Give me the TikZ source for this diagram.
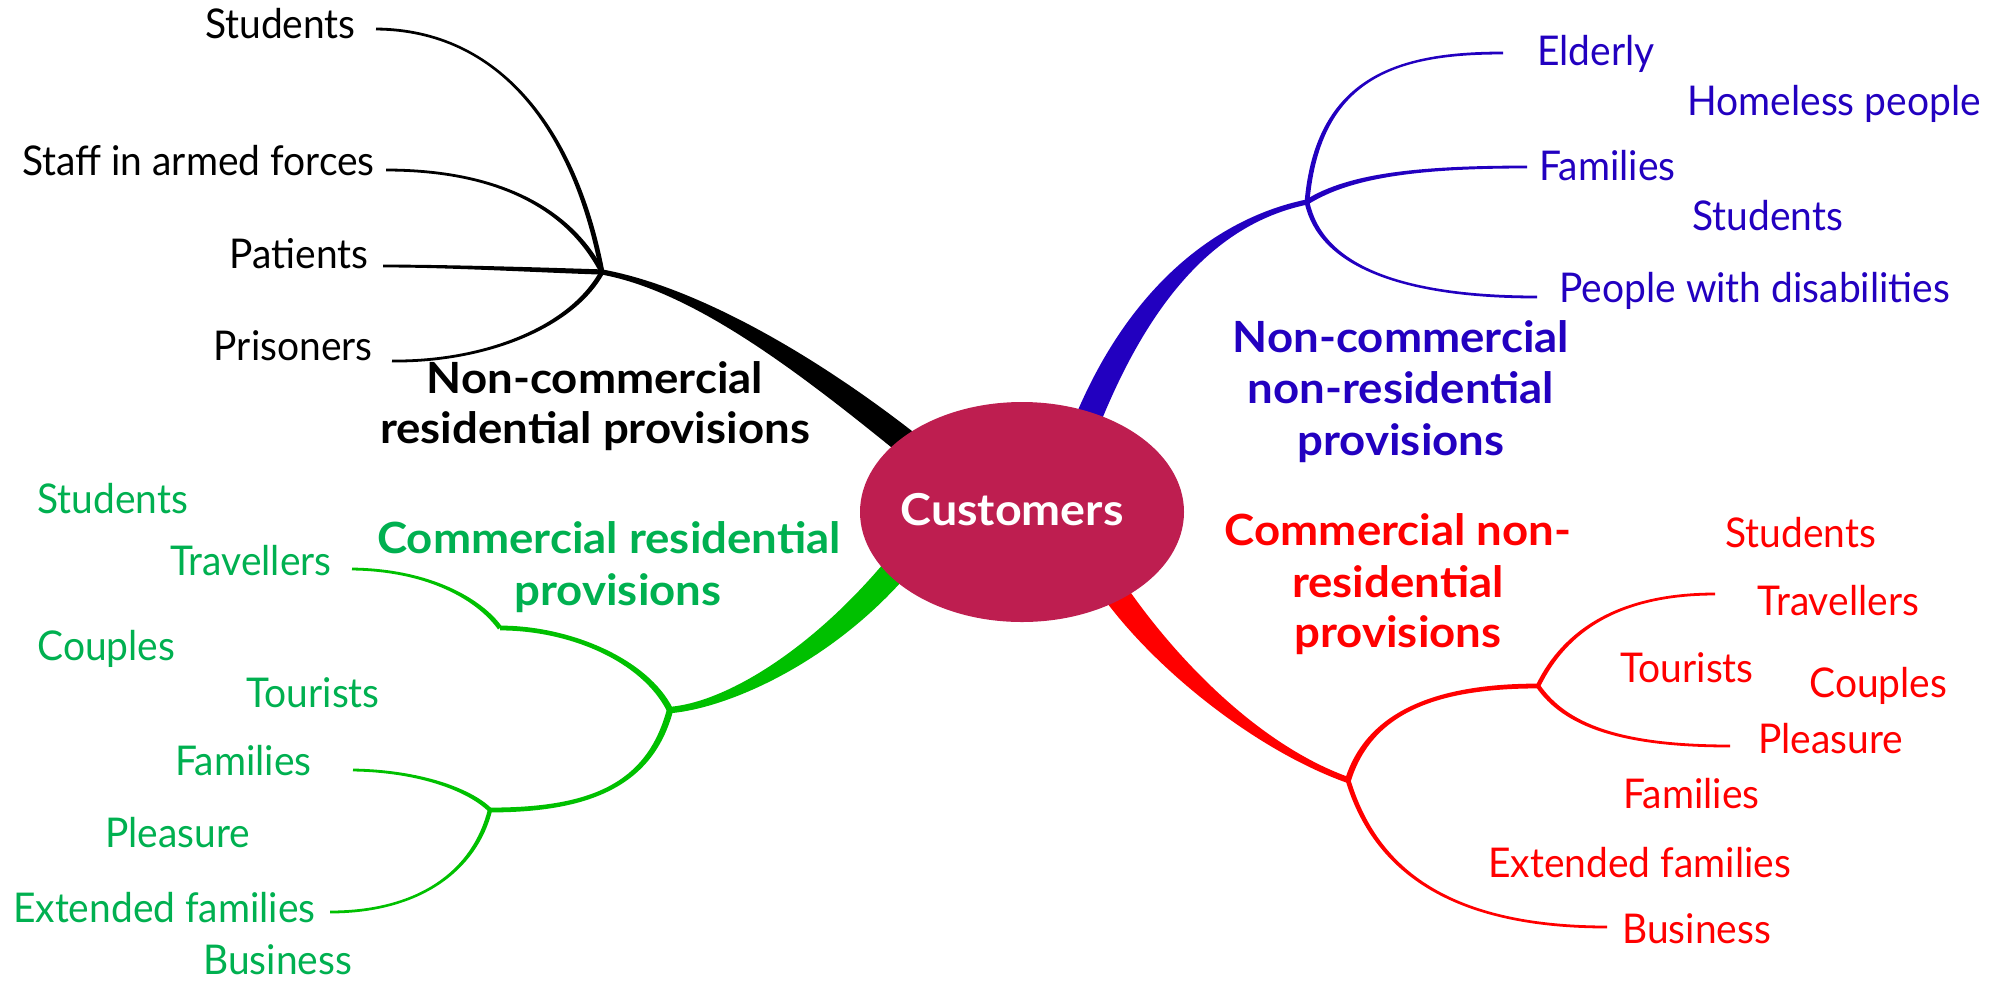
\documentclass[tikz,border=0pt]{standalone}
\usepackage{fontspec}
\setmainfont{Lato}[FakeStretch=0.95]
\newfontfamily\lblfont{Lato}[FakeStretch=1.06]
\usetikzlibrary{calc,shapes.geometric}

\definecolor{hubred}{RGB}{190,30,80}
\definecolor{kblue}{RGB}{34,0,192}
\definecolor{kgreenline}{RGB}{0,192,0}
\definecolor{kgreentext}{RGB}{0,176,80}
\definecolor{kred}{RGB}{255,0,0}

% tapered Bezier stroke: start, control 1, control 2, end, half width at start, half width at end, colour
\newcommand\taper[7]{%
  \path ($(#1)!#5!90:(#2)$) coordinate (tpA1)
        ($(#1)!#5!-90:(#2)$) coordinate (tpA2)
        ($(#4)!#6!-90:(#3)$) coordinate (tpD1)
        ($(#4)!#6!90:(#3)$) coordinate (tpD2);
  \fill[#7] (tpA1) .. controls ($(#2)+(tpA1)-(#1)$) and ($(#3)+(tpD1)-(#4)$) .. (tpD1)
     -- (tpD2) .. controls ($(#3)+(tpD2)-(#4)$) and ($(#2)+(tpA2)-(#1)$) .. (tpA2) -- cycle;
}

\tikzset{
  leaf/.style={font=\fontsize{20.5}{25}\selectfont, inner sep=0pt},
  lbl/.style={font=\lblfont\bfseries\fontsize{21.5}{25}\selectfont, inner sep=0pt, anchor=base},
  hub/.style={ellipse, fill=hubred, minimum width=162pt, minimum height=110pt, inner sep=0pt}
}

\begin{document}
\begin{tikzpicture}[x=0.5pt,y=-0.5pt]
\useasboundingbox (0,0) rectangle (1998,982);

% branch points
\coordinate (K0) at (602,272);
\coordinate (B0) at (1307,202);
\coordinate (R0) at (1348,780);
\coordinate (R1) at (1538,686);
\coordinate (G0) at (670,710);
\coordinate (G1) at (500,628);
\coordinate (G2) at (490,810);
% trunk roots, hidden under the central ellipse
\coordinate (Kr) at (930,462);
\coordinate (Br) at (1078,445);
\coordinate (Rr) at (1100,570);
\coordinate (Gr) at (915,545);
% free ends of the twigs
\coordinate (kStuE) at (376,29);
\coordinate (kStaE) at (386,170);
\coordinate (kPatE) at (383,266);
\coordinate (kPriE) at (392,361);
\coordinate (bEldE) at (1503,53);
\coordinate (bFamE) at (1527,167);
\coordinate (bPwdE) at (1537,297);
\coordinate (rTraE) at (1715,594);
\coordinate (rPleE) at (1730,746);
\coordinate (rBusE) at (1607,927);
\coordinate (gTraE) at (352,569);
\coordinate (gFamE) at (353,770);
\coordinate (gExtE) at (330,912);

% trunks
\taper{Kr}{820,372}{700,290}{K0}{6.5pt}{1.3pt}{black}
\taper{Br}{1135,290}{1220,220}{B0}{6.5pt}{1.3pt}{kblue}
\taper{Rr}{1150,650}{1250,745}{R0}{6.5pt}{1.5pt}{kred}
\taper{Gr}{835,650}{730,705}{G0}{6.5pt}{1.6pt}{kgreenline}

% black twigs
\taper{K0}{575,130}{500,30}{kStuE}{1.2pt}{0.7pt}{black}
\taper{K0}{570,210}{500,170}{kStaE}{1.2pt}{0.7pt}{black}
\taper{K0}{540,270}{450,266}{kPatE}{1.3pt}{0.7pt}{black}
\taper{K0}{570,330}{480,362}{kPriE}{1.2pt}{0.7pt}{black}

% blue twigs
\taper{B0}{1318,75}{1400,53}{bEldE}{1.2pt}{0.7pt}{kblue}
\taper{B0}{1350,175}{1420,167}{bFamE}{1.3pt}{0.7pt}{kblue}
\taper{B0}{1320,265}{1400,297}{bPwdE}{1.2pt}{0.7pt}{kblue}

% red twigs
\taper{R0}{1370,710}{1440,686}{R1}{1.5pt}{1.2pt}{kred}
\taper{R1}{1565,630}{1620,594}{rTraE}{1.1pt}{0.7pt}{kred}
\taper{R1}{1565,725}{1620,746}{rPleE}{1.1pt}{0.7pt}{kred}
\taper{R0}{1375,870}{1450,927}{rBusE}{1.2pt}{0.7pt}{kred}

% green twigs
\taper{G0}{645,660}{570,628}{G1}{1.6pt}{1.2pt}{kgreenline}
\taper{G1}{480,600}{430,570}{gTraE}{1.2pt}{0.7pt}{kgreenline}
\taper{G0}{650,785}{590,810}{G2}{1.6pt}{1.2pt}{kgreenline}
\taper{G2}{470,790}{420,771}{gFamE}{1.1pt}{0.7pt}{kgreenline}
\taper{G2}{475,870}{420,912}{gExtE}{1.1pt}{0.7pt}{kgreenline}

% centre
\node[hub] (cust) at (1022,512) {};
\node[lbl, text=white, font=\lblfont\bfseries\fontsize{22}{25}\selectfont] (custText) at (1012,525) {Customers};

% non-commercial residential
\node[leaf, anchor=base east] (kStu) at (356,38) {Students};
\node[leaf, anchor=base east] (kSta) at (375,175) {Staff in armed forces};
\node[leaf, anchor=base east] (kPat) at (369,268) {Patients};
\node[leaf, anchor=base east] (kPri) at (373,360) {Prisoners};
\node[lbl] (kLbl1) at (595,393) {Non-commercial};
\node[lbl] (kLbl2) at (595,443) {residential provisions};

% non-commercial non-residential
\begin{scope}[every node/.append style={text=kblue}]
\node[leaf, anchor=base west] (bEld) at (1537,65) {Elderly};
\node[leaf, anchor=base west] (bHom) at (1687,115) {Homeless people};
\node[leaf, anchor=base west] (bFam) at (1539,180) {Families};
\node[leaf, anchor=base west] (bStu) at (1692,230) {Students};
\node[leaf, anchor=base west] (bPwd) at (1559,302) {People with disabilities};
\node[lbl] (bLbl1) at (1401,352) {Non-commercial};
\node[lbl] (bLbl2) at (1401,403) {non-residential};
\node[lbl] (bLbl3) at (1401,455) {provisions};
\end{scope}

% commercial non-residential
\begin{scope}[every node/.append style={text=kred}]
\node[leaf, anchor=base west] (rStu) at (1725,547) {Students};
\node[leaf, anchor=base west] (rTra) at (1757,615) {Travellers};
\node[leaf, anchor=base west] (rTou) at (1620,682) {Tourists};
\node[leaf, anchor=base west] (rCou) at (1809,697) {Couples};
\node[leaf, anchor=base west] (rPle) at (1758,753) {Pleasure};
\node[leaf, anchor=base west] (rFam) at (1623,808) {Families};
\node[leaf, anchor=base west] (rExt) at (1488,877) {Extended families};
\node[leaf, anchor=base west] (rBus) at (1622,943) {Business};
\node[lbl] (rLbl1) at (1398,545) {Commercial non-};
\node[lbl] (rLbl2) at (1398,597) {residential};
\node[lbl] (rLbl3) at (1398,647) {provisions};
\end{scope}

% commercial residential
\begin{scope}[every node/.append style={text=kgreentext}]
\node[leaf, anchor=base west] (gStu) at (37,513) {Students};
\node[leaf, anchor=base east] (gTra) at (332,575) {Travellers};
\node[leaf, anchor=base west] (gCou) at (37,660) {Couples};
\node[leaf, anchor=base west] (gTou) at (246,707) {Tourists};
\node[leaf, anchor=base east] (gFam) at (312,775) {Families};
\node[leaf, anchor=base west] (gPle) at (105,847) {Pleasure};
\node[leaf, anchor=base east] (gExt) at (316,922) {Extended families};
\node[leaf, anchor=base west] (gBus) at (203,974) {Business};
\node[lbl] (gLbl1) at (609,553) {Commercial residential};
\node[lbl] (gLbl2) at (618,605) {provisions};
\end{scope}
\end{tikzpicture}
\end{document}
